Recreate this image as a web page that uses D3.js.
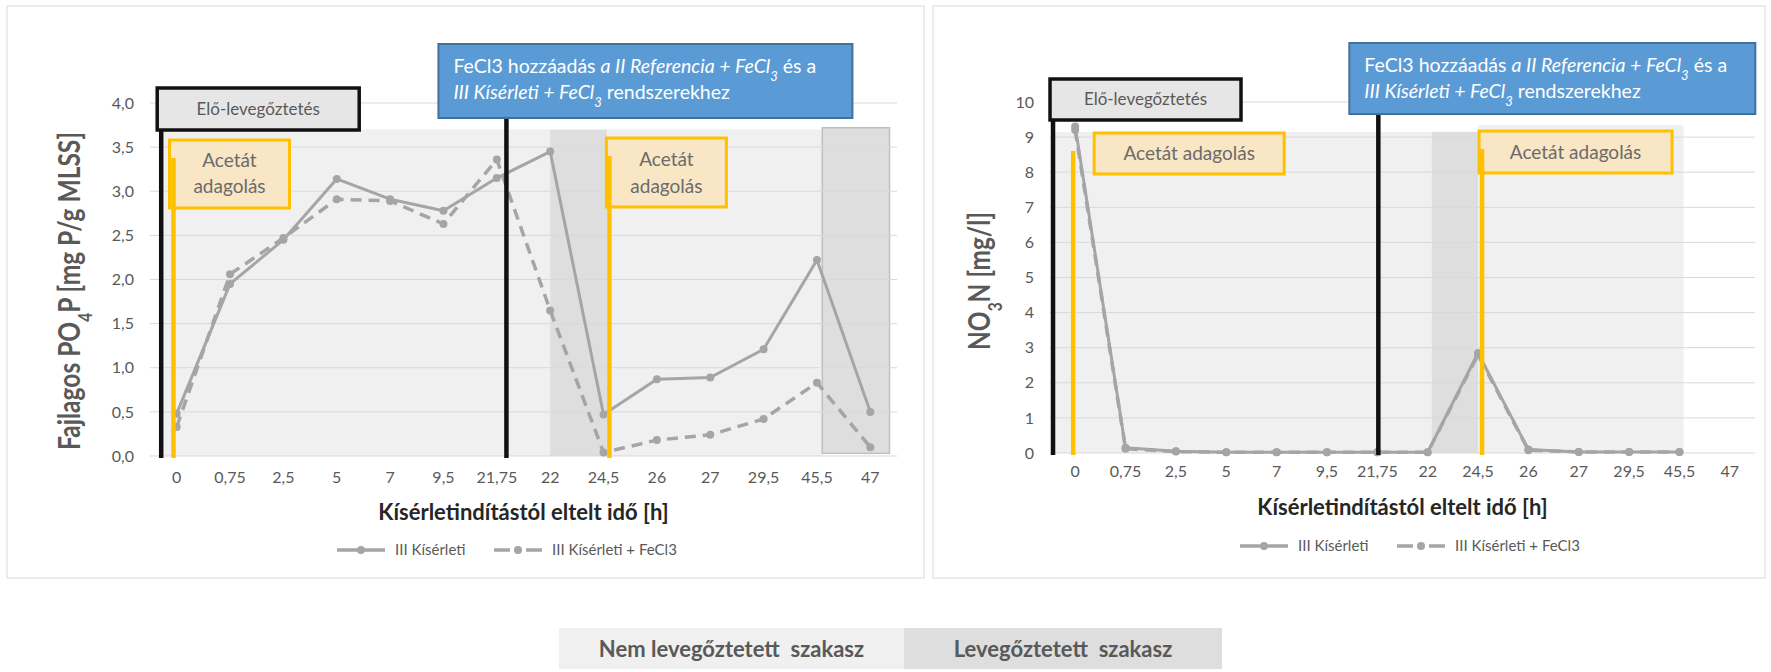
<!DOCTYPE html>
<html>
<head>
<meta charset="utf-8">
<script src="https://cdn.jsdelivr.net/npm/d3@7"></script>
<style>
  body { margin: 0; background: #fff; }
  svg { display: block; font-family: Lato, "Open Sans", sans-serif; }
</style>
</head>
<body>
<svg id="chart" width="1771" height="672"></svg>
<script>
// categories (hours since start)
const categories = ["0", "0,75", "2,5", "5", "7", "9,5", "21,75", "22", "24,5", "26", "27", "29,5", "45,5", "47"];
const seriesNames = ["III Kísérleti", "III Kísérleti + FeCl3"];

// specific PO4-P [mg P/g MLSS]
const po4Kiserleti      = [0.48, 1.95, 2.45, 3.14, 2.91, 2.78, 3.15, 3.45, 0.47, 0.87, 0.89, 1.21, 2.22, 0.50];
const po4KiserletiFeCl3 = [0.33, 2.06, 2.47, 2.91, 2.89, 2.63, 3.36, 1.65, 0.04, 0.18, 0.24, 0.42, 0.83, 0.10];

// NO3-N [mg/l]
const no3Kiserleti      = [9.3, 0.15, 0.05, 0.02, 0.02, 0.02, 0.02, 0.02, 2.85, 0.10, 0.03, 0.03, 0.03, null];
const no3KiserletiFeCl3 = [9.2, 0.12, 0.04, 0.02, 0.02, 0.02, 0.02, 0.02, 2.80, 0.08, 0.03, 0.03, 0.03, null];

const po4Ticks = [0, 0.5, 1, 1.5, 2, 2.5, 3, 3.5, 4];
const no3Ticks = [0, 1, 2, 3, 4, 5, 6, 7, 8, 9, 10];

const phaseLabels = ["Nem levegőztetett  szakasz", "Levegőztetett  szakasz"];
const xTitle = "Kísérletindítástól eltelt idő [h]";

const LIGHT = "#f0f0f0", DARK = "#dedede", GREY = "#a5a5a5", TXT = "#595959";
const YELLOW = "#ffc000", BLUE = "#5b9bd5";

const svg = d3.select("#chart");

function drawChart(cfg) {
    const g = svg.append("g");
    const x = d3.scaleBand().domain(categories).range(cfg.xRange).padding(0);
    const y = d3.scaleLinear().domain(cfg.yDomain).range(cfg.yRange);
    const bw = x.bandwidth();
    const xc = (c, f = 0) => x(c) + bw * (0.5 + f);

    // panel frame
    g.append("rect")
        .attr("x", cfg.panel[0]).attr("y", cfg.panel[1])
        .attr("width", cfg.panel[2]).attr("height", cfg.panel[3])
        .attr("fill", "#fff").attr("stroke", "#d9d9d9");

    // aerated / non aerated phases
    cfg.phases.forEach(p => {
        const x0 = xc(p.from[0], p.from[1]), x1 = xc(p.to[0], p.to[1]);
        g.append("rect")
            .attr("x", x0).attr("width", x1 - x0)
            .attr("y", y(p.top)).attr("height", y(p.bottom || 0) - y(p.top))
            .attr("fill", p.fill)
            .attr("stroke", p.stroke || "none").attr("stroke-width", 1.5);
    });

    // gridlines
    g.append("g").selectAll("line").data(cfg.yTicks).join("line")
        .attr("x1", cfg.xRange[0]).attr("x2", cfg.xRange[1])
        .attr("y1", d => y(d)).attr("y2", d => y(d))
        .attr("stroke", "#d9d9d9").attr("stroke-width", 1);

    // y tick labels
    const yAxis = g.append("g")
        .attr("transform", `translate(${cfg.yLabelX},0)`)
        .call(d3.axisLeft(y).tickValues(cfg.yTicks).tickSize(0).tickPadding(0).tickFormat(cfg.fmt));
    yAxis.select(".domain").remove();
    yAxis.selectAll("text").attr("fill", TXT).attr("font-size", 16).attr("font-family", "Lato, sans-serif");

    // x tick labels
    const xAxis = g.append("g")
        .attr("transform", `translate(0,${cfg.xLabelY})`)
        .call(d3.axisBottom(x).tickSize(0).tickPadding(0));
    xAxis.select(".domain").remove();
    xAxis.selectAll("text").attr("fill", TXT).attr("font-size", 16).attr("font-family", "Lato, sans-serif");

    // axis titles
    g.append("text")
        .attr("x", (cfg.xRange[0] + cfg.xRange[1]) / 2).attr("y", cfg.xTitleY)
        .attr("text-anchor", "middle").attr("font-weight", "bold")
        .attr("font-size", 22).attr("fill", "#262626").text(xTitle);

    // y title: tall glyphs squeezed along the axis, as in the source picture
    const yt = g.append("text")
        .attr("text-anchor", "middle").attr("font-weight", "bold")
        .attr("font-size", 30).attr("fill", TXT);
    yt.append("tspan").text(cfg.yTitle.parts[0]);
    yt.append("tspan").attr("baseline-shift", "sub").attr("font-size", 19).text(cfg.yTitle.parts[1]);
    yt.append("tspan").text(cfg.yTitle.parts[2]);
    const natural = yt.node().getBBox().width;
    yt.attr("transform",
        `translate(${cfg.yTitle.x},${cfg.yTitle.y}) rotate(-90) scale(${cfg.yTitle.len / natural},1)`);

    // series
    const line = d3.line()
        .defined(d => d != null)
        .x((d, i) => xc(categories[i]))
        .y(d => y(d));
    cfg.series.forEach((s, k) => {
        g.append("path").datum(s)
            .attr("d", line)
            .attr("fill", "none").attr("stroke", GREY)
            .attr("stroke-width", k === 0 ? 3 : 3.5)
            .attr("stroke-dasharray", k === 0 ? null : "11,7")
            .attr("stroke-linejoin", "round");
        g.append("g").selectAll("circle")
            .data(s.map((v, i) => ({ v, c: categories[i] })).filter(d => d.v != null))
            .join("circle")
            .attr("cx", d => xc(d.c)).attr("cy", d => y(d.v))
            .attr("r", 4).attr("fill", GREY);
    });

    // legend
    cfg.legendX.forEach((lx, k) => {
        const lg = g.append("g").attr("transform", `translate(${lx},${cfg.legendY})`);
        lg.append("line").attr("x1", 0).attr("x2", 48)
            .attr("stroke", GREY).attr("stroke-width", 3.5)
            .attr("stroke-dasharray", k === 0 ? null : "16,7,2,7,16");
        lg.append("circle").attr("cx", 24).attr("r", 4).attr("fill", GREY);
        lg.append("text").attr("x", 58).attr("dy", "0.35em")
            .attr("font-size", 15).attr("fill", TXT).text(seriesNames[k]);
    });

    // annotation: pre-aeration marker and box
    const ann = cfg.ann;
    const vline = (xx, y1, color, w) => g.append("line")
        .attr("x1", xx).attr("x2", xx).attr("y1", y1).attr("y2", y(0) + 2)
        .attr("stroke", color).attr("stroke-width", w);

    const b1 = xc(ann.black1[0], ann.black1[1]);
    vline(b1, ann.elo.y + ann.elo.h / 2, "#111", 4.5);
    g.append("rect").attr("x", b1 + ann.elo.dx).attr("y", ann.elo.y)
        .attr("width", ann.elo.w).attr("height", ann.elo.h)
        .attr("fill", "#e7e6e6").attr("stroke", "#111").attr("stroke-width", 3.5);
    g.append("text").attr("x", b1 + ann.elo.dx + ann.elo.w / 2).attr("y", ann.elo.y + ann.elo.h / 2)
        .attr("dy", "0.35em").attr("text-anchor", "middle")
        .attr("font-size", 17).attr("fill", TXT).text("Elő-levegőztetés");

    // acetate dosing boxes
    const acetate = (cat, box) => {
        const xx = xc(cat[0], cat[1]);
        g.append("rect").attr("x", xx + box.dx).attr("y", box.y)
            .attr("width", box.w).attr("height", box.h)
            .attr("fill", "#f8e6c4").attr("stroke", YELLOW).attr("stroke-width", 3);
        vline(xx, box.y + 18, YELLOW, 4.5);
        const t = g.append("text").attr("text-anchor", "middle")
            .attr("font-size", 19).attr("fill", "#6b6b6b");
        box.lines.forEach((l, i) => t.append("tspan")
            .attr("x", xx + box.dx + box.w / 2).attr("y", box.base[i]).text(l));
    };
    acetate(ann.yellow1, ann.ac1);
    acetate(ann.yellow2, ann.ac2);

    // FeCl3 dosing marker
    const b2 = xc(ann.black2[0], ann.black2[1]);
    vline(b2, ann.blue.y + ann.blue.h / 2, "#111", 4.5);
    g.append("rect").attr("x", b2 + ann.blue.dx).attr("y", ann.blue.y)
        .attr("width", ann.blue.w).attr("height", ann.blue.h)
        .attr("fill", BLUE).attr("stroke", "#41719c").attr("stroke-width", 2);
    const bt = g.append("text").attr("font-size", 19.5).attr("fill", "#fff");
    const tx = b2 + ann.blue.dx + 15;
    const l1 = bt.append("tspan").attr("x", tx).attr("y", ann.blue.y + 29);
    l1.append("tspan").text("FeCl3 hozzáadás ");
    l1.append("tspan").attr("font-style", "italic").text("a II Referencia + FeCl");
    l1.append("tspan").attr("font-style", "italic").attr("baseline-shift", "sub").attr("font-size", 13).text("3");
    l1.append("tspan").text(" és a");
    const l2 = bt.append("tspan").attr("x", tx).attr("y", ann.blue.y + 55);
    l2.append("tspan").attr("font-style", "italic").text("III Kísérleti + FeCl");
    l2.append("tspan").attr("font-style", "italic").attr("baseline-shift", "sub").attr("font-size", 13).text("3");
    l2.append("tspan").text(" rendszerekhez");
}

const comma = d => d.toFixed(1).replace(".", ",");

drawChart({
    panel: [7, 6, 917, 572],
    xRange: [150, 897], yDomain: [0, 4], yRange: [456, 103],
    yTicks: po4Ticks, fmt: comma,
    yLabelX: 134, xLabelY: 472, xTitleY: 520,
    yTitle: { x: 80, y: 291, len: 318, parts: ["Fajlagos  PO", "4", "P [mg P/g MLSS]"] },
    series: [po4Kiserleti, po4KiserletiFeCl3],
    legendX: [337, 494], legendY: 550,
    phases: [
        { from: ["0", -0.28], to: ["22", 0], top: 3.7, fill: LIGHT },
        { from: ["22", 0], to: ["24,5", 0.07], top: 3.7, fill: DARK },
        { from: ["24,5", 0.07], to: ["45,5", 0.1], top: 3.7, fill: LIGHT },
        { from: ["45,5", 0.1], to: ["47", 0.36], top: 3.72, bottom: 0.03, fill: DARK, stroke: "#c0c0c0" }
    ],
    ann: {
        black1: ["0", -0.29], yellow1: ["0", -0.06],
        black2: ["21,75", 0.18], yellow2: ["24,5", 0.11],
        elo: { dx: -4, y: 88, w: 202, h: 42 },
        ac1: { dx: -4, y: 140, w: 120, h: 68, lines: ["Acetát", "adagolás"], base: [167, 193] },
        ac2: { dx: -3, y: 138, w: 120, h: 69, lines: ["Acetát", "adagolás"], base: [166, 193] },
        blue: { dx: -68, y: 44, w: 414, h: 74 }
    }
});

drawChart({
    panel: [933, 6, 832, 572],
    xRange: [1050, 1755], yDomain: [0, 10], yRange: [453, 102],
    yTicks: no3Ticks, fmt: d => d,
    yLabelX: 1034, xLabelY: 466, xTitleY: 515,
    yTitle: { x: 990, y: 281, len: 138, parts: ["NO", "3", "N [mg/l]"] },
    series: [no3Kiserleti, no3KiserletiFeCl3],
    legendX: [1240, 1397], legendY: 546,
    phases: [
        { from: ["0", -0.42], to: ["22", 0.08], top: 9.15, fill: LIGHT },
        { from: ["22", 0.08], to: ["24,5", 0], top: 9.15, fill: DARK },
        { from: ["24,5", 0], to: ["45,5", 0.08], top: 9.35, fill: LIGHT }
    ],
    ann: {
        black1: ["0", -0.44], yellow1: ["0", -0.04],
        black2: ["21,75", 0.02], yellow2: ["24,5", 0.08],
        elo: { dx: -3, y: 79, w: 191, h: 41 },
        ac1: { dx: 21, y: 133, w: 190, h: 41, lines: ["Acetát adagolás"], base: [160] },
        ac2: { dx: -3, y: 131, w: 193, h: 42, lines: ["Acetát adagolás"], base: [159] },
        blue: { dx: -29, y: 43, w: 406, h: 71 }
    }
});

// shared phase legend
const phaseX = d3.scaleOrdinal().domain(phaseLabels).range([559, 904]);
const phaseW = d3.scaleOrdinal().domain(phaseLabels).range([345, 318]);
const phaseFill = d3.scaleOrdinal().domain(phaseLabels).range([LIGHT, DARK]);
const pl = svg.append("g").selectAll("g").data(phaseLabels).join("g");
pl.append("rect")
    .attr("x", d => phaseX(d)).attr("y", 628)
    .attr("width", d => phaseW(d)).attr("height", 41)
    .attr("fill", d => phaseFill(d));
pl.append("text")
    .attr("x", d => phaseX(d) + phaseW(d) / 2).attr("y", 649).attr("dy", "0.35em")
    .attr("text-anchor", "middle").attr("font-weight", "bold")
    .attr("font-size", 22).attr("fill", TXT)
    .style("white-space", "pre")
    .text(d => d);
</script>
</body>
</html>
